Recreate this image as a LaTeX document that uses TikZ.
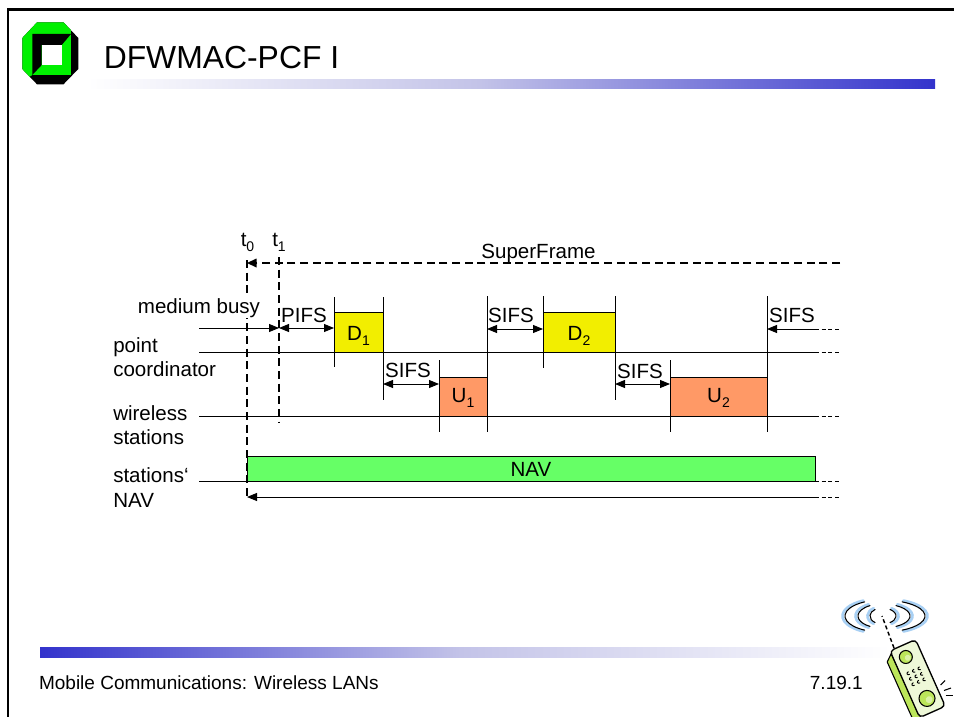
\documentclass[tikz,border=0pt]{standalone}
\usepackage{fontspec}
\setmainfont{Liberation Sans}
\usetikzlibrary{arrows.meta}
\definecolor{dyellow}{HTML}{F2EE00}
\definecolor{uorange}{HTML}{FF9966}
\definecolor{navgreen}{HTML}{66FF66}
\definecolor{barblue}{HTML}{3333CC}
\definecolor{barmid}{RGB}{195,195,232}
\definecolor{logogreen}{HTML}{00F000}
\definecolor{phonebody}{HTML}{EEF8D8}
\definecolor{phoneside}{HTML}{BCE65A}
\definecolor{wavecol}{HTML}{A8D0F4}
\newcommand\lowsub[1]{\raisebox{-0.28em}{\fontsize{10.5}{12}\selectfont #1}}

\begin{document}
\begin{tikzpicture}[x=0.75pt,y=-0.75pt,
  txt/.style={font=\fontsize{15.4}{18}\selectfont, inner sep=0pt},
  rule/.style={line width=0.75pt},
  tickline/.style={line width=0.6pt},
  heavydash/.style={line width=1.5pt, dash pattern=on 6pt off 3.5pt},
  taildash/.style={line width=0.75pt, dash pattern=on 3pt off 2pt},
  tip/.style={-{Triangle[length=7.5pt,width=6pt]}},
  tips/.style={{Triangle[length=7.5pt,width=6pt]}-{Triangle[length=7.5pt,width=6pt]}},
  slot/.style={draw, line width=0.75pt},
  wavehalo/.style={wavecol, line width=2pt, line cap=round},
  waveline/.style={black, line width=0.8pt, line cap=round}]
\useasboundingbox (0,0) rectangle (954,717);
\fill[white] (0,0) rectangle (954,717);

% page frame
\draw[line width=2pt] (8,717) -- (8,9.5) -- (954,9.5);

% university logo
\fill[black] (37,22.3) -- (63.5,22.3) -- (78.3,38) -- (78.3,69) -- (63.5,84.3) -- (37,84.3) -- (22.3,69) -- (22.3,38) -- cycle;
\fill[logogreen] (29.6,76.7) -- (22.3,69) -- (22.3,38) -- (37,22.3) -- (63.5,22.3) -- (70.9,30.1) -- (71,34) -- (32.3,34) -- (32.3,75) -- cycle;
\fill[logogreen] (32.3,34) rectangle (71,75);
\fill[black] (32.3,75) -- (32.3,34) -- (71,34) -- (61.7,45) -- (41.7,45) -- (41.7,65) -- cycle;
\fill[white] (41.7,45) rectangle (61.7,65);

% title and header bar
\node[anchor=base west, inner sep=0pt, font=\fontsize{23.9}{28}\selectfont] (title) at (103.5,68.5) {DFWMAC-PCF I};
\shade[left color=white, right color=barmid] (87,80) rectangle (480,89);
\shade[left color=barmid, right color=barblue] (479.5,80) rectangle (935,89);

% footer bar and texts
\shade[left color=barblue, right color=barmid] (40,647.5) rectangle (460,657);
\shade[left color=barmid, right color=white] (459.5,647.5) rectangle (890,657);
\node[anchor=base west, inner sep=0pt, font=\fontsize{14.25}{17}\selectfont] (foot) at (38.8,689) {Mobile Communications: Wireless LANs};
\node[anchor=base east, inner sep=0pt, font=\fontsize{14.25}{17}\selectfont] (pageno) at (863,689) {7.19.1};

% ---------- timing diagram ----------
% frames
\path[fill=dyellow, slot] (334,312) rectangle (383,352);
\path[fill=dyellow, slot] (543,312) rectangle (615,352);
\path[fill=uorange, slot] (439,377) rectangle (487,416);
\path[fill=uorange, slot] (670,377) rectangle (767,416);
\path[fill=navgreen, slot] (247,456) rectangle (815,481);
\node[txt, anchor=base] (d1) at (358.5,340) {D\lowsub{1}};
\node[txt, anchor=base] (d2) at (579,340) {D\lowsub{2}};
\node[txt, anchor=base] (u1) at (463,402) {U\lowsub{1}};
\node[txt, anchor=base] (u2) at (718.5,402) {U\lowsub{2}};
\node[txt, anchor=base] (nav) at (531,476) {NAV};

% time lines
\draw[rule] (199,352) -- (815,352);
\draw[rule] (199,416) -- (815,416);
\draw[rule] (199,481) -- (815,481);
\draw[taildash] (815,352) -- (840,352);
\draw[taildash] (815,416) -- (840,416);
\draw[taildash] (815,481) -- (840,481);

% frame boundaries
\draw[tickline] (334,297) -- (334,367);
\draw[tickline] (383,297) -- (383,400);
\draw[tickline] (439,360) -- (439,432);
\draw[tickline] (487,296) -- (487,432);
\draw[tickline] (543,296) -- (543,368);
\draw[tickline] (615,296) -- (615,400);
\draw[tickline] (670,360) -- (670,432);
\draw[tickline] (767,296) -- (767,432);

% t0 / t1 markers and superframe
\draw[heavydash] (247,260) -- (247,497);
\draw[heavydash] (279,257) -- (279,423);
\draw[heavydash] (840,263) -- (252,263);
\fill (247,263) -- (256.5,258.5) -- (256.5,267.5) -- cycle;

% row labels
\node[txt, anchor=base] (t0) at (247.5,246) {t\lowsub{0}};
\node[txt, anchor=base] (t1) at (279,246) {t\lowsub{1}};
\node[txt, anchor=base] (sf) at (538.5,258) {SuperFrame};
\node[txt, anchor=base west, fill=white, inner sep=0.5pt] (mb) at (137,313) {medium busy};
\node[txt, anchor=base west] (pc1) at (113,352.5) {point};
\node[txt, anchor=base west] (pc2) at (113,376.5) {coordinator};
\node[txt, anchor=base west] (ws1) at (113,420) {wireless};
\node[txt, anchor=base west] (ws2) at (113,444.5) {stations};
\node[txt, anchor=base west] (nv1) at (113,482) {stations‘};
\node[txt, anchor=base west] (nv2) at (113,507) {NAV};

% medium busy and inter-frame spaces
\draw[rule, tip] (199,328) -- (279,328);
\draw[rule, tips] (279,328) -- (334,328);
\node[txt, anchor=base] (pifs) at (304,322) {PIFS};
\draw[rule, tips] (383,384) -- (439,384);
\node[txt, anchor=base] (s1) at (408,377.5) {SIFS};
\draw[rule, tips] (487,329) -- (543,329);
\node[txt, anchor=base] (s2) at (511,322) {SIFS};
\draw[rule, tips] (615,384) -- (670,384);
\node[txt, anchor=base] (s3) at (640,378) {SIFS};
\draw[rule, tip] (815,329) -- (767,329);
\draw[taildash] (815,329) -- (840,329);
\node[txt, anchor=base] (s4) at (792,322) {SIFS};

% NAV duration
\draw[rule, tip] (815,497) -- (247,497);
\draw[taildash] (815,497) -- (840,497);

% ---------- mobile phone ----------
\coordinate (ant) at (882,616);
% radio waves
\foreach \rx/\ry/\ang in {12/8/55, 24/12/60, 37/16/62}{
  \pgfmathsetmacro\rxo{\rx+2.5}
  \pgfmathsetmacro\ryo{\ry+1.5}
  \pgfmathsetmacro\ls{180-\ang}
  \pgfmathsetmacro\le{180+\ang}
  \draw[wavehalo] (ant) ++({\ls}:{\rxo} and {\ryo}) arc[start angle=\ls, end angle=\le, x radius=\rxo, y radius=\ryo];
  \draw[waveline] (ant) ++({\ls}:{\rx} and {\ry}) arc[start angle=\ls, end angle=\le, x radius=\rx, y radius=\ry];
}
\foreach \rx/\ry/\ang in {14/8/55, 28/12/60, 43/16/62}{
  \pgfmathsetmacro\rxo{\rx+2.5}
  \pgfmathsetmacro\ryo{\ry+1.5}
  \draw[wavehalo] (ant) ++({-\ang}:{\rxo} and {\ryo}) arc[start angle=-\ang, end angle=\ang, x radius=\rxo, y radius=\ryo];
  \draw[waveline] (ant) ++({-\ang}:{\rx} and {\ry}) arc[start angle=-\ang, end angle=\ang, x radius=\rx, y radius=\ry];
}
% antenna
\draw[line width=1.1pt, dash pattern=on 3pt off 2pt] (894,648) -- (ant);
% handset body
\begin{scope}[shift={(916.5,678.5)}, rotate=24]
  \filldraw[fill=phoneside, line width=0.8pt] (-13,-33) -- (-20,-27) -- (-20,33) .. controls (-19,39) .. (-12,38) -- cycle;
  \filldraw[fill=phonebody, line width=1pt, rounded corners=3pt] (-13,-36) rectangle (15,37);
  \filldraw[fill=phoneside, line width=0.8pt] (-1,-24) circle[radius=6.5];
  \fill[phonebody!60!phoneside] (0.5,-22.5) circle[radius=3];
  \foreach \py in {-8,-2,4}{
    \foreach \px in {-6,0,6}{
      \draw[line width=0.7pt] (\px+1.5,\py-1.5) .. controls (\px-1.5,\py-1.5) and (\px-1.5,\py+1.5) .. (\px+1.5,\py+1.5);
    }
  }
  \filldraw[fill=phoneside, line width=0.8pt] (1.5,22.5) circle[radius=8];
  \fill[phonebody!60!phoneside] (3,24.5) circle[radius=3.5];
\end{scope}
% ringing strokes
\draw[line width=0.8pt] (940.5,685) -- (945,680.5);
\draw[line width=0.8pt] (944,690.5) -- (951,688);
\draw[line width=0.8pt] (945.5,695.5) -- (952.5,695.5);
\end{tikzpicture}
\end{document}
